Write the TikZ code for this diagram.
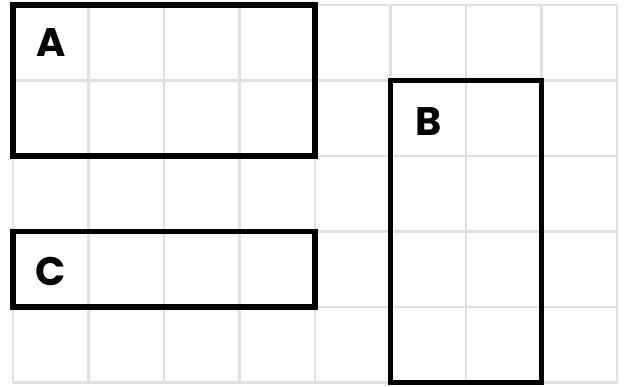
\documentclass[tikz,border=0pt]{standalone}
\usepackage{fontspec}
\setmainfont{Poppins}
\usepackage{tikz}

\begin{document}
\begin{tikzpicture}[x=1.5cm,y=1.5cm,
  gridline/.style={draw=black!12,line width=1.4pt},
  box/.style={draw=black,line width=3.3pt},
  lbl/.style={font=\fontsize{22.5}{22.5}\selectfont\bfseries,inner sep=0pt}]
\useasboundingbox (-0.172,-0.053) rectangle (8.119,5.066);
\foreach \i in {0,1,2,3,4,5,6,7,8}{
\draw[gridline] (\i,0) -- (\i,5);
}
\foreach \i in {0,1,2,3,4,5}{
\draw[gridline] (0,\i) -- (8,\i);
}
\draw[box] (0,3) rectangle (4,5);
\draw[box] (5,0) rectangle (7,4);
\draw[box] (0,1) rectangle (4,2);
\node[lbl] (labelA) at (0.5,4.5) {A};
\node[lbl] (labelB) at (5.5,3.45) {B};
\node[lbl] (labelC) at (0.5,1.47) {C};
\end{tikzpicture}
\end{document}
